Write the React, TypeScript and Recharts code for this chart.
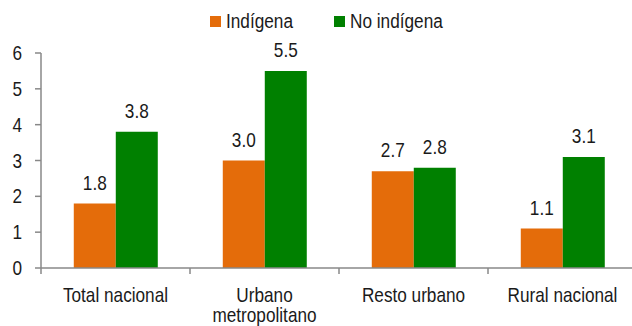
import { Bar, BarChart, LabelList, XAxis, YAxis } from "recharts";

/* ────────── grouped bars: indígena vs no indígena by area ────────── */

const categories = ["Total nacional", "Urbano\nmetropolitano", "Resto urbano", "Rural nacional"];
const indigena = [1.8, 3.0, 2.7, 1.1];
const noIndigena = [3.8, 5.5, 2.8, 3.1];
const yTicks = [0, 1, 2, 3, 4, 5, 6];

const data = categories.map((name, i) => ({
  name,
  indigena: indigena[i],
  noIndigena: noIndigena[i],
}));

const FONT = "'Liberation Sans', Arial, sans-serif";
const FS = 20;
const SQUEEZE = 0.86; // fake an Arial Narrow look
const INK = "#1a1a1a";
const AXIS = "#888888";
const ORANGE = "#E46C0A";
const GREEN = "#008000";

// text squeezed horizontally around its own x
function Narrow({ x, y, anchor = "middle", children }: any) {
  return (
    <text
      transform={`translate(${x},${y}) scale(${SQUEEZE},1)`}
      textAnchor={anchor}
      fill={INK}
      fontSize={FS}
      fontFamily={FONT}
    >
      {children}
    </text>
  );
}

function CategoryTick(props: any) {
  const { x, y, payload, index, width } = props;
  const band = width / categories.length;
  const lines = String(payload.value).split("\n");
  const axisY = y - 8;
  return (
    <g>
      <line x1={x - band / 2} x2={x - band / 2} y1={axisY} y2={axisY + 6} stroke={AXIS} strokeWidth={1.5} />
      {index === categories.length - 1 && (
        <line x1={x + band / 2} x2={x + band / 2} y1={axisY} y2={axisY + 6} stroke={AXIS} strokeWidth={1.5} />
      )}
      <Narrow x={x} y={axisY + 34}>
        {lines.map((l, i) => (
          <tspan key={i} x={0} dy={i === 0 ? 0 : 20}>
            {l}
          </tspan>
        ))}
      </Narrow>
    </g>
  );
}

function ValueTick(props: any) {
  const { x, y, payload } = props;
  return (
    <Narrow x={x} y={y + 7} anchor="end">
      {payload.value}
    </Narrow>
  );
}

function ValueLabel(props: any) {
  const { x, y, width, value } = props;
  return (
    <Narrow x={x + width / 2} y={y - 14}>
      {Number(value).toFixed(1)}
    </Narrow>
  );
}

function LegendItem({ left, color, label }: any) {
  return (
    <div style={{ position: "absolute", left, top: 10, display: "flex", alignItems: "center", fontFamily: FONT, fontSize: FS, color: INK, whiteSpace: "nowrap" }}>
      <span style={{ width: 11, height: 11, background: color, display: "inline-block", marginRight: 5 }} />
      <span style={{ display: "inline-block", transform: `scaleX(${SQUEEZE})`, transformOrigin: "left center" }}>{label}</span>
    </div>
  );
}

export default function App() {
  return (
    <div style={{ position: "absolute", left: 0, top: 0, width: 632, height: 326, overflow: "hidden", background: "#fff" }}>
      <BarChart
        width={640}
        height={326}
        data={data}
        margin={{ top: 53, right: 3, bottom: 0, left: 0 }}
        barCategoryGap="22%"
        barGap={0}
      >
        <XAxis
          dataKey="name"
          height={58}
          interval={0}
          stroke={AXIS}
          strokeWidth={1.5}
          tickLine={false}
          tick={<CategoryTick />}
        />
        <YAxis
          width={41}
          domain={[0, 6]}
          ticks={yTicks}
          interval={0}
          stroke={AXIS}
          strokeWidth={1.5}
          tickSize={6}
          tickMargin={13}
          tick={<ValueTick />}
        />
        <Bar dataKey="indigena" name="Indígena" fill={ORANGE} isAnimationActive={false}>
          <LabelList dataKey="indigena" content={<ValueLabel />} />
        </Bar>
        <Bar dataKey="noIndigena" name="No indígena" fill={GREEN} isAnimationActive={false}>
          <LabelList dataKey="noIndigena" content={<ValueLabel />} />
        </Bar>
      </BarChart>
      <LegendItem left={210} color={ORANGE} label="Indígena" />
      <LegendItem left={334} color={GREEN} label="No indígena" />
    </div>
  );
}
